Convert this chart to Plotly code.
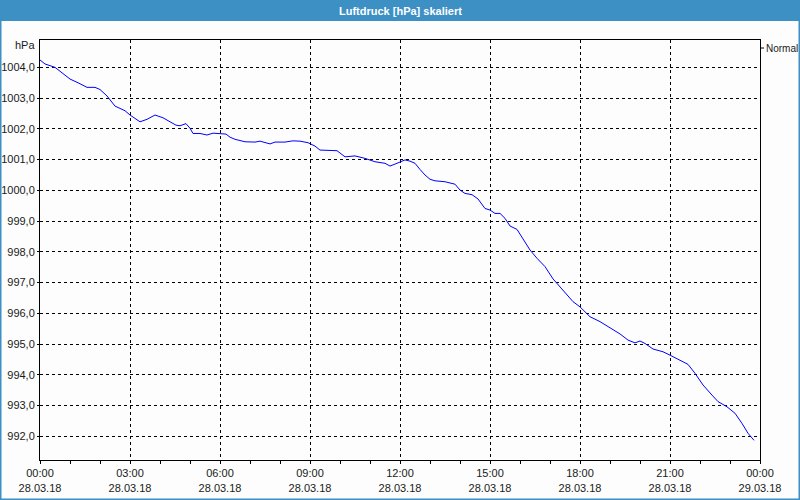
import plotly.graph_objects as go
from datetime import datetime

# ---- data ----
times = ["00:00", "00:10", "00:30", "00:44", "01:00", "01:16", "01:34", "01:50", "02:00", "02:14",
         "02:30", "02:50", "03:00", "03:20", "03:34", "03:50", "04:06", "04:20", "04:32", "04:40",
         "04:52", "05:00", "05:06", "05:20", "05:34", "05:46", "06:00", "06:12", "06:20", "06:30",
         "06:50", "07:10", "07:20", "07:40", "07:50", "08:10", "08:26", "08:40", "08:56", "09:10",
         "09:20", "09:40", "09:54", "10:10", "10:30", "10:50", "11:10", "11:30", "11:40", "11:54",
         "12:10", "12:20", "12:30", "12:40", "12:50", "13:00", "13:10", "13:30", "13:50", "14:00",
         "14:10", "14:24", "14:36", "14:50", "15:00", "15:10", "15:20", "15:30", "15:40", "15:54",
         "16:06", "16:20", "16:34", "16:50", "17:06", "17:20", "17:26", "17:46", "18:00", "18:20",
         "18:40", "19:00", "19:20", "19:36", "19:50", "20:00", "20:10", "20:26", "20:46", "21:00",
         "21:20", "21:36", "21:50", "22:06", "22:24", "22:36", "22:54", "23:10", "23:24", "23:36",
         "23:48"]
pressure = [1004.24, 1004.11, 1004.00, 1003.82, 1003.62, 1003.50, 1003.35, 1003.35, 1003.28, 1003.07,
            1002.74, 1002.59, 1002.45, 1002.23, 1002.31, 1002.45, 1002.36, 1002.23, 1002.12, 1002.10,
            1002.17, 1002.02, 1001.85, 1001.85, 1001.80, 1001.86, 1001.85, 1001.83, 1001.73, 1001.66,
            1001.58, 1001.57, 1001.60, 1001.51, 1001.57, 1001.57, 1001.61, 1001.60, 1001.55, 1001.44,
            1001.31, 1001.29, 1001.29, 1001.09, 1001.12, 1001.04, 1000.93, 1000.88, 1000.79, 1000.88,
            1000.99, 1000.95, 1000.88, 1000.68, 1000.50, 1000.36, 1000.31, 1000.28, 1000.20, 1000.01,
            999.90, 999.86, 999.72, 999.41, 999.36, 999.25, 999.25, 999.09, 998.84, 998.73,
            998.44, 998.06, 997.79, 997.52, 997.12, 996.86, 996.76, 996.38, 996.21, 995.89,
            995.73, 995.54, 995.33, 995.13, 995.04, 995.10, 995.02, 994.84, 994.75, 994.64,
            994.48, 994.34, 994.05, 993.67, 993.34, 993.13, 992.96, 992.75, 992.42, 992.10,
            991.87]
day = "2018-03-28"
title_text = "Luftdruck [hPa] skaliert"
series_name = "Normal"
y_unit = "hPa"

x = [datetime.strptime(f"{day} {t}", "%Y-%m-%d %H:%M") for t in times]

FONT = "Liberation Sans"
TXT = "#1a1a1a"
BG = "#fcfdfc"
BLUE_BAR = "#3d90c4"

fig = go.Figure()
fig.add_trace(go.Scatter(x=x, y=pressure, mode="lines", name=series_name,
                         line=dict(color="#0000ff", width=1), showlegend=False,
                         hoverinfo="skip"))

L, R, T, B = 40, 40, 40, 40
W, H = 800, 500
pw, ph = W - L - R, H - T - B

def px_x(p):
    return (p - L) / pw

def px_y(p):
    return (H - B - p) / ph

fig.update_layout(
    width=W, height=H,
    margin=dict(l=L, r=R, t=T, b=B, autoexpand=False),
    paper_bgcolor=BG, plot_bgcolor=BG,
    separators=", ",
    font=dict(family=FONT, size=11, color=TXT),
    xaxis=dict(
        type="date", automargin=False,
        range=[datetime(2018, 3, 28, 0, 0), datetime(2018, 3, 29, 0, 0)],
        dtick=3 * 3600 * 1000,
        tick0=datetime(2018, 3, 28, 0, 0),
        tickformat="%H:%M<br>%d.%m.%y",
        showgrid=True, gridcolor="#000000", griddash="3px,3px", gridwidth=1,
        showline=True, linecolor="#000000", linewidth=1, mirror=True,
        ticks="outside", ticklen=3, tickcolor="#000000",
        minor=dict(dtick=3600 * 1000, ticks="outside", ticklen=3, tickcolor="#000000", showgrid=False),
        zeroline=False, fixedrange=True,
        tickfont=dict(family=FONT, size=11, color=TXT),
    ),
    yaxis=dict(
        automargin=False,
        range=[991.23, 1004.89],
        dtick=1, tick0=992, tickformat=".1f",
        showgrid=True, gridcolor="#000000", griddash="3px,3px", gridwidth=1,
        showline=True, linecolor="#000000", linewidth=1, mirror=True,
        ticks="outside", ticklen=2, tickcolor="#000000",
        zeroline=False, fixedrange=True,
        tickfont=dict(family=FONT, size=11, color=TXT),
    ),
)

# title bar
fig.add_shape(type="rect", xref="paper", yref="paper",
              x0=px_x(0), x1=px_x(W), y0=px_y(21), y1=px_y(0),
              fillcolor=BLUE_BAR, line=dict(width=0), layer="above")
fig.add_annotation(xref="paper", yref="paper", x=0.5, y=px_y(10.5),
                   text=f"<b>{title_text}</b>", showarrow=False,
                   font=dict(family=FONT, size=11, color="#ffffff"),
                   xanchor="center", yanchor="middle")
# outer frame
fig.add_shape(type="rect", xref="paper", yref="paper",
              x0=px_x(0.75), x1=px_x(W - 0.75), y0=px_y(H - 0.75), y1=px_y(20),
              fillcolor="rgba(0,0,0,0)", line=dict(color=BLUE_BAR, width=1.5), layer="above")
# unit label
fig.add_annotation(xref="paper", yref="paper", x=px_x(37), y=px_y(45),
                   text=y_unit, showarrow=False, xanchor="right", yanchor="middle",
                   font=dict(family=FONT, size=11, color=TXT))
# legend-like label
fig.add_shape(type="line", xref="paper", yref="paper",
              x0=px_x(761), x1=px_x(764), y0=px_y(48), y1=px_y(48),
              line=dict(color="#000000", width=1))
fig.add_annotation(xref="paper", yref="paper", x=px_x(764), y=px_y(48),
                   text=series_name, showarrow=False, xanchor="left", yanchor="middle",
                   font=dict(family=FONT, size=10, color=TXT))

fig.write_html("out.html",
               config={"displayModeBar": False, "staticPlot": True},
               post_script="document.body.style.margin='0';document.body.style.padding='0';"
                           "document.documentElement.style.overflow='hidden';")
